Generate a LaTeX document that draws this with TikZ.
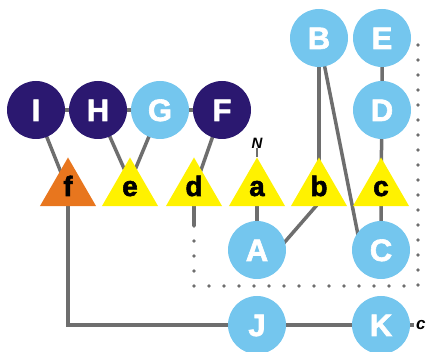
\documentclass[tikz,border=0pt]{standalone}
\usepackage{fontspec}
\setmainfont{Liberation Sans}
\newfontfamily\heavyfont{Liberation Sans Bold}[FakeBold=2]
\usetikzlibrary{shapes.geometric,backgrounds,calc}
\definecolor{navy}{RGB}{43,24,112}
\definecolor{lightblue}{RGB}{116,198,238}
\definecolor{triyellow}{RGB}{255,242,0}
\definecolor{triorange}{RGB}{232,118,30}
\definecolor{linegray}{RGB}{110,110,110}
\begin{document}
\begin{tikzpicture}[x=1pt,y=-1pt,
 circ/.style={circle,inner sep=0pt,minimum size=58pt,font=\heavyfont\fontsize{31}{31}\selectfont,text=white,text height=22pt,text depth=0pt},
 dark/.style={circ,fill=navy},
 light/.style={circ,fill=lightblue},
 tri/.style={regular polygon,regular polygon sides=3,minimum size=65pt,inner sep=0pt,font=\heavyfont\fontsize{28}{28}\selectfont,text height=12pt,text depth=0pt},
 ytri/.style={tri,fill=triyellow},
 otri/.style={tri,fill=triorange},
 link/.style={draw=linegray,line width=3.5pt},
 dotline/.style={draw=linegray,line width=3.8pt,line cap=round,dash pattern=on 0pt off 15pt},
 lab/.style={font=\fontsize{15}{15}\selectfont\bfseries\itshape,inner sep=0pt}]
\useasboundingbox (0,0) rectangle (432,352);
% circles
\node[dark] (I) at (36,110) {I};
\node[dark] (H) at (98,110) {H};
\node[light] (G) at (160,110) {G};
\node[dark] (F) at (222,110) {F};
\node[light] (B) at (319,38) {B};
\node[light] (E) at (382,38) {E};
\node[light] (D) at (382,110) {D};
\node[light] (A) at (257,250) {A};
\node[light] (C) at (381,250) {C};
\node[light] (J) at (257,325) {J};
\node[light] (K) at (381,325) {K};
% triangles
\node[otri] (f) at (68,190) {f};
\node[ytri] (e) at (130,190) {e};
\node[ytri] (d) at (194,190) {d};
\node[ytri] (a) at (257,190) {a};
\node[ytri] (b) at (319,190) {b};
\node[ytri] (c) at (381,190) {c};
% labels
\node[lab] (N) at (257,143) {N};
\coordinate (Kend) at (414,325);
\node[lab,anchor=west,font=\fontsize{17}{17}\selectfont\bfseries\itshape] (clab) at (416,325) {c};
\coordinate (dend) at (194,226);
\coordinate (dc1) at (194,286);
\coordinate (dc2) at (418,286);
\coordinate (dc3) at (418,40);
\begin{scope}[on background layer]
\draw[link] (I) -- (H) -- (G) -- (F);
\draw[link] (I.center) -- (f.center);
\draw[link] (H.center) -- ($(e.center)+(0,-8)$);
\draw[link] (G.center) -- ($(e.center)+(0,-8)$);
\draw[link] (F.center) -- (d.center);
\draw[link] (B.center) -- (b.center);
\draw[link] (B.center) -- ($(C.center)+(-20,0)$);
\draw[link] (E) -- (D.center) -- (c.center) -- (C.center);
\draw[link] (a.center) -- (A.center);
\draw[link] ($(b.center)+(11,0)$) -- ($(A.center)+(13,9)$);
\draw[link] (d.center) -- (dend);
\draw[dotline] (dend) -- (dc1) -- (dc2) -- (dc3);
\draw[link] (f.center) |- (J);
\draw[link] (J) -- (K) -- (Kend);
\draw[link,line width=2.5pt] (N.south) -- (a.corner 1);
\end{scope}
\end{tikzpicture}
\end{document}
